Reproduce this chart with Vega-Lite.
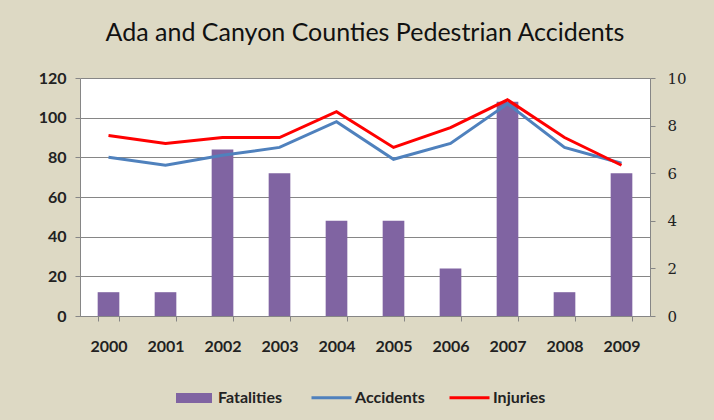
{
  "$schema": "https://vega.github.io/schema/vega-lite/v6.json",
  "width": 570,
  "height": 238,
  "autosize": {"type": "none"},
  "padding": {"left": 80, "top": 78, "right": 64, "bottom": 104},
  "background": "#DDD9C4",
  "title": {"text": "Ada and Canyon Counties Pedestrian Accidents", "fontSize": 25, "font": "Lato", "fontWeight": "normal", "color": "#111111", "offset": 24, "anchor": "middle"},
  "config": {
    "view": {"fill": "white", "stroke": null},
    "axis": {"labelFont": "Lato", "labelFontSize": 16, "labelFontWeight": "bold", "labelColor": "#222222", "domainColor": "#868686", "tickColor": "#868686", "gridColor": "#868686", "tickSize": 5, "title": null},
    "legend": {"labelFont": "Lato", "labelFontSize": 16, "labelFontWeight": "bold", "labelColor": "#222222", "title": null}
  },
  "data": {"values": [
    {"year": "2000", "Fatalities": 1, "Accidents": 80, "Injuries": 91},
    {"year": "2001", "Fatalities": 1, "Accidents": 76, "Injuries": 87},
    {"year": "2002", "Fatalities": 7, "Accidents": 81, "Injuries": 90},
    {"year": "2003", "Fatalities": 6, "Accidents": 85, "Injuries": 90},
    {"year": "2004", "Fatalities": 4, "Accidents": 98, "Injuries": 103},
    {"year": "2005", "Fatalities": 4, "Accidents": 79, "Injuries": 85},
    {"year": "2006", "Fatalities": 2, "Accidents": 87, "Injuries": 95},
    {"year": "2007", "Fatalities": 9, "Accidents": 107, "Injuries": 109},
    {"year": "2008", "Fatalities": 1, "Accidents": 85, "Injuries": 90},
    {"year": "2009", "Fatalities": 6, "Accidents": 77, "Injuries": 76}
  ]},
  "layer": [
    {
      "mark": {"type": "bar"},
      "encoding": {
        "x": {"field": "year", "type": "nominal", "scale": {"paddingInner": 0.62, "paddingOuter": 0.31}, "axis": {"labelAngle": 0, "tickBand": "extent", "labelPadding": 17, "grid": false}},
        "y": {"field": "Fatalities", "type": "quantitative", "scale": {"domain": [0, 10]}, "axis": {"orient": "right", "values": [0, 2, 4, 6, 8, 10], "grid": false, "labelPadding": 12, "labelFontWeight": "normal", "labelFont": "DejaVu Serif", "labelFontSize": 15}},
        "color": {"datum": "Fatalities", "type": "nominal", "scale": {"domain": ["Fatalities"], "range": ["#8064A2"]}, "legend": {"orient": "none", "legendX": 104, "legendY": 310, "symbolType": "M-1.8,-0.5L1.8,-0.5L1.8,0.5L-1.8,0.5Z", "symbolSize": 400, "symbolStrokeWidth": 0, "labelOffset": 14}}
      }
    },
    {
      "transform": [{"fold": ["Accidents", "Injuries"], "as": ["series", "value"]}],
      "mark": {"type": "line", "strokeWidth": 3},
      "encoding": {
        "x": {"field": "year", "type": "nominal"},
        "y": {"field": "value", "type": "quantitative", "scale": {"domain": [0, 120]}, "axis": {"orient": "left", "values": [0, 20, 40, 60, 80, 100, 120], "grid": true, "labelPadding": 9}},
        "stroke": {"field": "series", "type": "nominal", "scale": {"domain": ["Accidents", "Injuries"], "range": ["#4F81BD", "#FF0000"]}, "legend": {"orient": "none", "direction": "horizontal", "legendX": 230, "legendY": 298, "symbolType": "stroke", "symbolSize": 1600, "symbolStrokeWidth": 3, "labelOffset": 2, "columnPadding": 18}}
      }
    }
  ],
  "resolve": {"scale": {"y": "independent"}, "axis": {"y": "independent"}}
}
